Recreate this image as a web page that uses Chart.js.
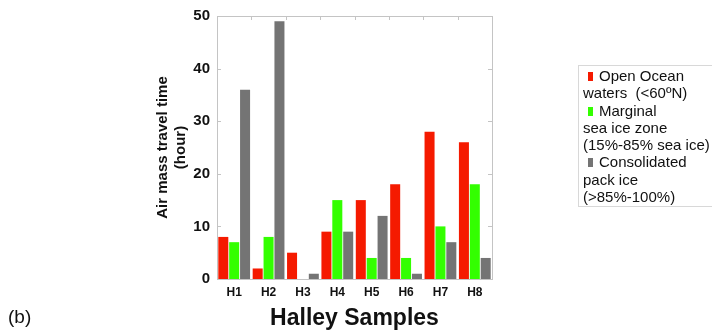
<!DOCTYPE html>
<html>
<head>
<meta charset="utf-8">
<script src="https://cdn.jsdelivr.net/npm/chart.js@4"></script>
<style>
  body { margin: 0; background: #fff; font-family: "Liberation Sans", Arial, sans-serif; overflow: hidden; }
  #wrap { position: relative; width: 712px; height: 333px; overflow: hidden; }
  #legend { position: absolute; left: 578px; top: 65px; width: 140px; height: 142px; box-sizing: border-box;
            border: 1px solid #d8d8d8; padding: 1px 0 0 4px; font-size: 15px; line-height: 17.3px; color: #111; white-space: pre; }
  .sw { display: inline-block; width: 5px; height: 9px; margin: 0 6px 0 5px; }
  #tag { position: absolute; left: 8px; top: 306px; font-size: 19px; color: #111; }
</style>
</head>
<body>
<div id="wrap">
  <canvas id="chart" width="712" height="333"></canvas>
  <div id="legend"></div>
  <div id="tag">(b)</div>
</div>
<script>
const samples = ['H1', 'H2', 'H3', 'H4', 'H5', 'H6', 'H7', 'H8'];
const openOcean = [8, 2, 5, 9, 15, 18, 28, 26];
const marginalIce = [7, 8, 0, 15, 4, 4, 10, 18];
const packIce = [36, 49, 1, 9, 12, 1, 7, 4];
const yTicks = [0, 10, 20, 30, 40, 50];

const seriesColors = ['#f51a00', '#33ff00', '#747474'];
const legendLines = [
    ['Open Ocean', 'waters  (<60ºN)'],
    ['Marginal', 'sea ice zone', '(15%-85% sea ice)'],
    ['Consolidated', 'pack ice', '(>85%-100%)']
];

// legend as plain html, it wraps oddly in the original
const legend = document.getElementById('legend');
legendLines.forEach((lines, i) => {
    lines.forEach((txt, j) => {
        const row = document.createElement('div');
        if (j === 0) {
            const sw = document.createElement('span');
            sw.className = 'sw';
            sw.style.background = seriesColors[i];
            row.appendChild(sw);
        }
        row.appendChild(document.createTextNode(txt));
        legend.appendChild(row);
    });
});

// grey frame round the plot with small inward ticks on top and right
const framePlugin = {
    id: 'frame',
    afterDraw(chart) {
        const { ctx, chartArea: a, scales } = chart;
        ctx.save();
        ctx.strokeStyle = '#c4c4c4';
        ctx.lineWidth = 1;
        ctx.strokeRect(a.left + 0.5, a.top + 0.5, a.right - a.left, a.bottom - a.top);
        ctx.beginPath();
        yTicks.forEach(v => {
            const y = Math.round(scales.y.getPixelForValue(v)) + 0.5;
            ctx.moveTo(a.right, y); ctx.lineTo(a.right - 4, y);
            ctx.moveTo(a.left, y); ctx.lineTo(a.left + 4, y);
        });
        for (let i = 1; i < samples.length; i++) {
            const x = Math.round((scales.x.getPixelForValue(i - 1) + scales.x.getPixelForValue(i)) / 2) + 0.5;
            ctx.moveTo(x, a.top); ctx.lineTo(x, a.top + 4);
        }
        ctx.stroke();
        ctx.restore();
    }
};

const ds = (data, i) => ({
    data: data,
    backgroundColor: seriesColors[i],
    borderWidth: 0,
    categoryPercentage: 0.95,
    barPercentage: 0.92
});

new Chart(document.getElementById('chart').getContext('2d'), {
    type: 'bar',
    data: {
        labels: samples,
        datasets: [ds(openOcean, 0), ds(marginalIce, 1), ds(packIce, 2)]
    },
    options: {
        responsive: false,
        animation: false,
        layout: { padding: { left: 154, right: 220, top: 0, bottom: 1 } },
        plugins: { legend: { display: false }, tooltip: { enabled: false } },
        scales: {
            x: {
                grid: { display: false, drawTicks: false },
                border: { display: false },
                ticks: { color: '#111', font: { family: 'Liberation Sans', size: 12, weight: 'bold' }, padding: 6 },
                title: {
                    display: true, text: 'Halley Samples', color: '#111',
                    font: { family: 'Liberation Sans', size: 23, weight: 'bold' }, padding: { top: 6, bottom: 0 }
                },
                afterFit(scale) { scale.height = 53; }
            },
            y: {
                min: 0, max: 50,
                grid: { display: false, drawTicks: false },
                border: { display: false },
                ticks: {
                    stepSize: 10, color: '#111', padding: 7,
                    font: { family: 'Liberation Sans', size: 15, weight: 'bold' }
                },
                title: {
                    display: true, text: ['Air mass travel time', '(hour)'], color: '#111',
                    font: { family: 'Liberation Sans', size: 15, weight: 'bold' }, padding: 0
                },
                afterFit(scale) { scale.width = 63; }
            }
        }
    },
    plugins: [framePlugin]
});
</script>
</body>
</html>
